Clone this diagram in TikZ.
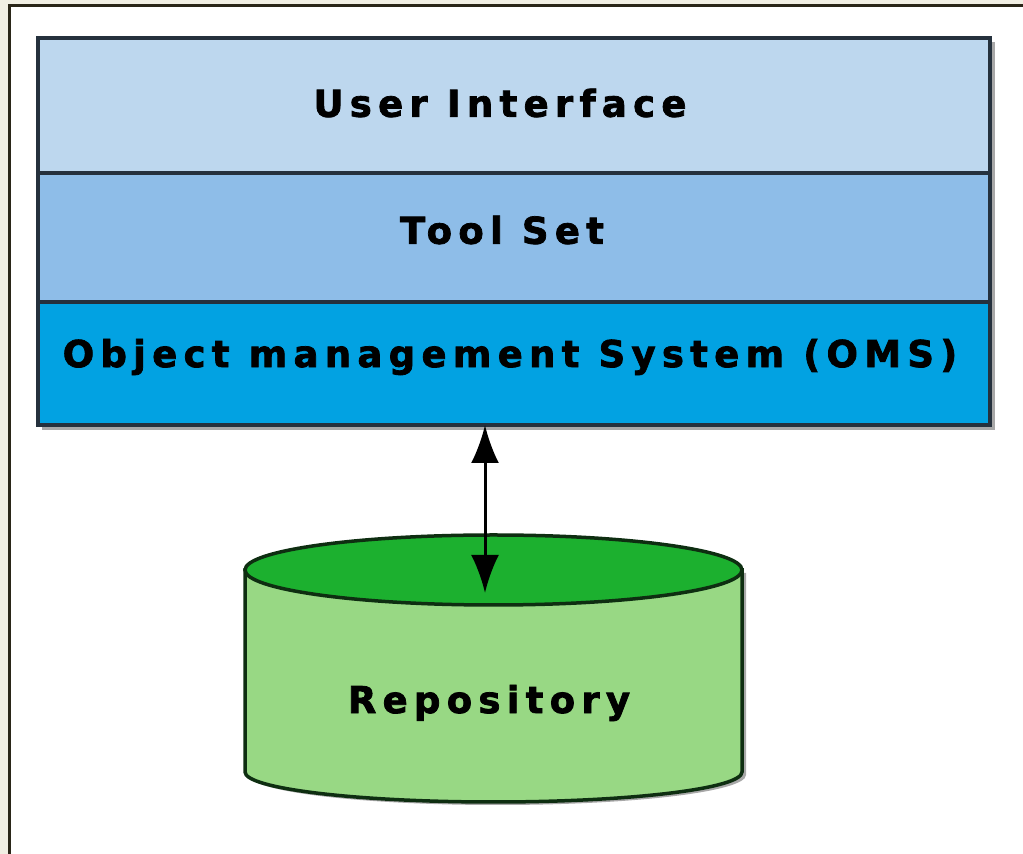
\documentclass[tikz,border=0pt]{standalone}
\usepackage{fontspec}
\usetikzlibrary{arrows.meta}
\newfontfamily\lblfont[LetterSpace=17,FakeBold=2]{DejaVu Sans Bold}
\definecolor{bgbeige}{HTML}{F1EFE3}
\definecolor{framec}{HTML}{2A2618}
\definecolor{uic}{HTML}{BDD7EE}
\definecolor{tsc}{HTML}{8EBDE8}
\definecolor{omsc}{HTML}{02A2E2}
\definecolor{edgec}{HTML}{25313D}
\definecolor{cyltop}{HTML}{1CB02F}
\definecolor{cylbody}{HTML}{98D884}
\definecolor{cyledge}{HTML}{0E2E11}
\definecolor{shadowc}{HTML}{A8A8A8}
\tikzset{
  layerbox/.style={draw=edgec, line width=3.5pt, minimum width=952pt, inner sep=0pt, outer sep=0pt},
  lbl/.style={font=\lblfont\fontsize{37}{42}\selectfont, text=black, inner sep=0pt},
  biarrow/.style={line width=3pt, {Latex[length=38pt,width=28pt]}-{Latex[length=38pt,width=28pt]}}
}
\begin{document}
\begin{tikzpicture}[x=1pt,y=1pt]
\useasboundingbox (0,0) rectangle (1023,854);
% frame
\fill[bgbeige] (0,0) rectangle (1023,854);
\fill[white] (9,0) rectangle (1023,848);
\draw[framec, line width=3pt] (9,0) -- (9,848) -- (1023,848);
% shadow of layer stack
\fill[shadowc] (42,424) rectangle (995,812);
% layers
\node[layerbox, fill=uic, minimum height=135pt] (ui) at (514,748.5) {};
\node[layerbox, fill=tsc, minimum height=129pt] (ts) at (514,616.5) {};
\node[layerbox, fill=omsc, minimum height=123pt] (oms) at (514,490.5) {};
\node[lbl] (uit) at (500,751) {User Interface};
\node[lbl] (tst) at (502,624) {Tool Set};
\node[lbl] (omst) at (510,497) {Object management System (OMS)};
% cylinder shadow
\fill[shadowc] (249,281) -- (249,79) arc[start angle=180,end angle=360,x radius=248.5pt,y radius=30pt] -- (746,281) -- cycle;
% cylinder body
\filldraw[fill=cylbody, draw=cyledge, line width=3.5pt]
  (245,284) -- (245,82) arc[start angle=180,end angle=360,x radius=248.5pt,y radius=30pt] -- (742,284) -- cycle;
% cylinder top
\filldraw[fill=cyltop, draw=cyledge, line width=3.5pt] (493.5,284) ellipse[x radius=248.5pt, y radius=35pt];
\node[lbl] (repo) at (489,151) {Repository};
\coordinate (cyltopc) at (485,261);
% arrow
\draw[biarrow] (oms.south -| cyltopc) -- (cyltopc);
\end{tikzpicture}
\end{document}
